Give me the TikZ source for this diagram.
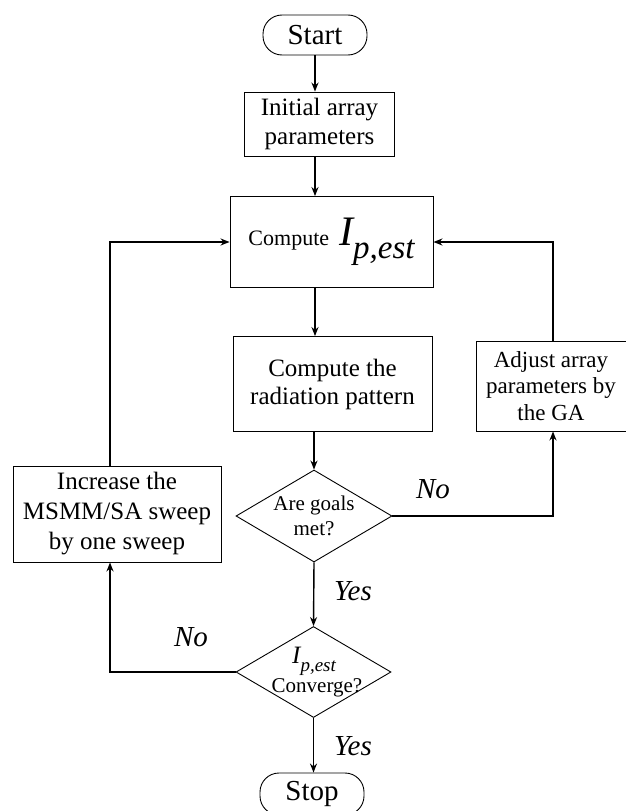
\documentclass[tikz,border=0pt]{standalone}
\usepackage{fontspec}
\setmainfont{Liberation Serif}
\usetikzlibrary{shapes.geometric,arrows.meta}
\begin{document}
\begin{tikzpicture}[x=1pt,y=-1pt,
  box/.style={draw, line width=0.9pt, align=center, inner sep=0pt, font=\fontsize{25}{29}\selectfont},
  term/.style={draw, line width=0.9pt, rounded corners=19pt, inner sep=0pt, font=\fontsize{29}{30}\selectfont},
  decision/.style={draw, diamond, line width=0.9pt, aspect=1.7, inner sep=0pt, align=center},
  plain/.style={inner sep=0pt},
  arr/.style={line width=1.4pt, -{Stealth[length=9pt,width=7pt]}},
  lbl/.style={font=\fontsize{29}{30}\selectfont\itshape}]
\path[use as bounding box, fill=white] (0,0) rectangle (626,811);

% main column
\node[term, minimum width=104pt, minimum height=40pt] (start) at (315,35) {Start};
\node[box, minimum width=150pt, minimum height=64pt] (init) at (319.5,124) {Initial array\\parameters};
\node[box, minimum width=203pt, minimum height=91pt] (comp) at (331.5,242)
  {{\fontsize{22}{24}\selectfont Compute}\hspace{10pt}{\fontsize{42}{42}\selectfont\itshape I}\raisebox{-13pt}{\fontsize{33}{33}\selectfont\itshape p,est}};
\node[box, minimum width=199pt, minimum height=95pt, font=\fontsize{25}{28}\selectfont] (rad) at (332.5,384) {Compute the\\radiation pattern};
\node[decision, minimum width=156pt, minimum height=92pt, font=\fontsize{21}{25}\selectfont] (d1) at (314,516) {Are goals\\met?};

% convergence test: outline and its two text lines
\node[decision, minimum width=155pt, minimum height=91pt] (d2) at (313.5,672) {};
\node[plain, anchor=base west, font=\fontsize{25}{25}\selectfont\itshape] (d2i) at (292,663)
  {I\raisebox{-8pt}{\fontsize{19}{19}\selectfont p,est}};
\node[plain, anchor=base, font=\fontsize{21}{22}\selectfont] (d2c) at (317,692) {Converge?};

\node[term, minimum width=104pt, minimum height=42pt] (stop) at (312,794) {Stop};

% side boxes
\node[box, minimum width=208pt, minimum height=96pt, font=\fontsize{25}{30}\selectfont] (lb) at (117,514) {Increase the\\MSMM/SA sweep\\by one sweep};
\node[box, minimum width=150pt, minimum height=90pt, font=\fontsize{23}{26.5}\selectfont] (rb) at (551,386) {Adjust array\\parameters by\\the GA};

\coordinate (lx) at (110,0);
\coordinate (rx) at (553,0);

% connectors
\draw[arr] (start.south) -- (start.south |- init.north);
\draw[arr] (start.south |- init.south) -- (start.south |- comp.north);
\draw[arr] (start.south |- comp.south) -- (start.south |- rad.north);
\draw[arr] (d1.north |- rad.south) -- (d1.north);
\draw[arr] (d1.south) -- (d2.north);
\draw[arr] (d2.south) -- (d2.south |- stop.north);

\draw[arr] (d1.east) -| (rx |- rb.south);
\draw[arr] (rx |- rb.north) |- (comp.east);
\draw[arr] (d2.west) -| (lx |- lb.south);
\draw[arr] (lx |- lb.north) |- (comp.west);

% branch labels
\node[lbl] (no1) at (433,489) {No};
\node[lbl] (yes1) at (353,591) {Yes};
\node[lbl] (no2) at (191,637) {No};
\node[lbl] (yes2) at (353,746) {Yes};
\end{tikzpicture}
\end{document}
